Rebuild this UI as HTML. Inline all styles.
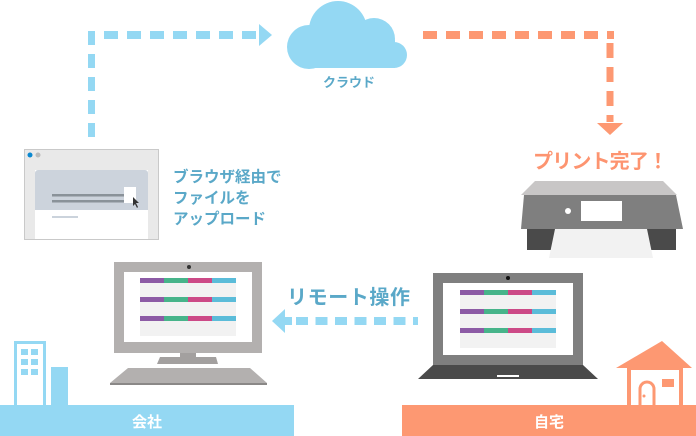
<!DOCTYPE html>
<html><head><meta charset="utf-8"><style>
html,body{margin:0;padding:0;background:#fff;width:696px;height:436px;overflow:hidden}
svg{display:block}
text{font-family:"Liberation Sans","Noto Sans CJK JP",sans-serif;font-weight:bold}
</style></head><body>
<svg width="696" height="436" viewBox="0 0 696 436" xmlns="http://www.w3.org/2000/svg">
<line x1="91.5" y1="137" x2="91.5" y2="31" stroke="#94d8f3" stroke-width="7" stroke-dasharray="14 9"/>
<line x1="104" y1="35" x2="258" y2="35" stroke="#94d8f3" stroke-width="8" stroke-dasharray="14 9"/>
<polygon points="259,24 272,35 259,46" fill="#94d8f3"/>
<g fill="#94d8f3">
<circle cx="309" cy="47" r="22"/>
<circle cx="338" cy="30" r="29"/>
<circle cx="374" cy="39" r="21"/>
<circle cx="394" cy="55" r="13"/>
<rect x="309" y="40" width="86" height="28"/>
</g>
<text x="349" y="87" font-size="13" fill="#5aa8c8" text-anchor="middle">クラウド</text>
<line x1="423" y1="35" x2="614" y2="35" stroke="#fd9872" stroke-width="8" stroke-dasharray="14 9"/>
<line x1="610" y1="43" x2="610" y2="122" stroke="#fd9872" stroke-width="7" stroke-dasharray="15 9"/>
<polygon points="597,123 623,123 610,135" fill="#fd9872"/>
<text x="533" y="168" font-size="20" fill="#fd9470" textLength="135" lengthAdjust="spacing">プリント完了！</text>
<polygon points="535,181 663,181 677,195 521,195" fill="#c8c6c6"/>
<polygon points="524,195 676,195 683,229 521,229" fill="#7f7f7f"/>
<rect x="527" y="229" width="149" height="21" fill="#4a4a4a"/>
<polygon points="555,229 647,229 653,258 549,258" fill="#f2f2f2"/>
<rect x="581" y="201" width="41" height="20" fill="#fff"/>
<circle cx="568" cy="211" r="3" fill="#fff"/>
<rect x="24.5" y="149.5" width="134" height="90" fill="#e9e9e9" stroke="#c9c9c9"/>
<circle cx="30" cy="155" r="2.5" fill="#0a88d0"/>
<circle cx="38" cy="155" r="2.5" fill="#bbb"/>
<rect x="35" y="170" width="113" height="69" fill="#fff"/>
<path d="M35,173 a3,3 0 0 1 3,-3 h107 a3,3 0 0 1 3,3 v37 h-113z" fill="#ccd3dc"/>
<rect x="52" y="194" width="76" height="2.5" fill="#8a9299"/>
<rect x="52" y="200" width="76" height="2.5" fill="#8a9299"/>
<rect x="52" y="216" width="26" height="2" fill="#cbd3dc"/>
<rect x="124" y="187" width="12" height="16" fill="#fff"/>
<polygon points="133,197 133,206 135,204 137,208 138,207 136,203 139,203" fill="#333"/>
<g font-size="15.5" fill="#5aa8c8">
<text x="173" y="182">ブラウザ経由で</text>
<text x="173" y="203">ファイルを</text>
<text x="173" y="224">アップロード</text>
</g>
<rect x="114" y="262" width="148" height="91" fill="#b3b0af"/>
<rect x="124" y="272" width="128" height="70" fill="#fff"/>
<circle cx="189" cy="267" r="2" fill="#333"/>
<rect x="140" y="278" width="96" height="58" fill="#f2f2f2"/>
<g>
<rect x="140" y="278" width="24" height="5" fill="#8c5ba5"/><rect x="164" y="278" width="24" height="5" fill="#47b48a"/><rect x="188" y="278" width="24" height="5" fill="#cc4a87"/><rect x="212" y="278" width="24" height="5" fill="#5bbcd9"/>
<rect x="140" y="297" width="24" height="5" fill="#8c5ba5"/><rect x="164" y="297" width="24" height="5" fill="#47b48a"/><rect x="188" y="297" width="24" height="5" fill="#cc4a87"/><rect x="212" y="297" width="24" height="5" fill="#5bbcd9"/>
<rect x="140" y="316" width="24" height="5" fill="#8c5ba5"/><rect x="164" y="316" width="24" height="5" fill="#47b48a"/><rect x="188" y="316" width="24" height="5" fill="#cc4a87"/><rect x="212" y="316" width="24" height="5" fill="#5bbcd9"/>
</g>
<rect x="180" y="353" width="16" height="4" fill="#a3a09f"/>
<polygon points="160,357 216,357 218,364 157,364" fill="#a3a09f"/>
<polygon points="128,368 250,368 267,383 110,383" fill="#b3b0af"/>
<rect x="110" y="383" width="157" height="2" fill="#8a8887"/>
<text x="287" y="304" font-size="20" fill="#5aa8c8" textLength="123" lengthAdjust="spacing">リモート操作</text>
<line x1="296" y1="321" x2="418" y2="321" stroke="#94d8f3" stroke-width="8" stroke-dasharray="12 7.5"/>
<polygon points="285,309 272,321 285,333" fill="#94d8f3"/>
<rect x="284" y="317" width="8" height="8" fill="#94d8f3"/>
<rect x="433" y="273" width="150" height="92" fill="#7f7f7f"/>
<rect x="443" y="283" width="130" height="72" fill="#fff"/>
<circle cx="508" cy="278" r="2" fill="#111"/>
<rect x="460" y="290" width="96" height="58" fill="#f2f2f2"/>
<g>
<rect x="460" y="290" width="24" height="5" fill="#8c5ba5"/><rect x="484" y="290" width="24" height="5" fill="#47b48a"/><rect x="508" y="290" width="24" height="5" fill="#cc4a87"/><rect x="532" y="290" width="24" height="5" fill="#5bbcd9"/>
<rect x="460" y="309" width="24" height="5" fill="#8c5ba5"/><rect x="484" y="309" width="24" height="5" fill="#47b48a"/><rect x="508" y="309" width="24" height="5" fill="#cc4a87"/><rect x="532" y="309" width="24" height="5" fill="#5bbcd9"/>
<rect x="460" y="328" width="24" height="5" fill="#8c5ba5"/><rect x="484" y="328" width="24" height="5" fill="#47b48a"/><rect x="508" y="328" width="24" height="5" fill="#cc4a87"/><rect x="532" y="328" width="24" height="5" fill="#5bbcd9"/>
</g>
<polygon points="433,365 583,365 598,379 418,379" fill="#4a4a4a"/>
<rect x="497" y="375" width="22" height="2" fill="#fff"/>
<rect x="15.5" y="342.5" width="29" height="64" fill="none" stroke="#94d8f3" stroke-width="3"/>
<g fill="#94d8f3">
<rect x="21" y="349" width="7" height="6"/><rect x="31" y="349" width="7" height="6"/>
<rect x="21" y="359" width="7" height="6"/><rect x="31" y="359" width="7" height="6"/>
<rect x="21" y="369" width="7" height="6"/><rect x="31" y="369" width="7" height="6"/>
<rect x="51" y="367" width="17" height="40"/>
</g>
<polygon points="662,341 692,368 616,368" fill="#fd9872"/>
<rect x="629" y="368" width="52" height="40" fill="none" stroke="#fd9872" stroke-width="4"/>
<path d="M640,407 v-18 a7,7 0 0 1 14,0 v18" fill="none" stroke="#fd9872" stroke-width="3"/>
<circle cx="644" cy="396" r="1.5" fill="#fd9872"/>
<rect x="662" y="379" width="12" height="8" fill="#fd9872"/>
<rect x="0" y="405" width="294" height="31" fill="#94d8f3"/>
<text x="147" y="427" font-size="15" fill="#fff" text-anchor="middle">会社</text>
<rect x="402" y="405" width="294" height="31" fill="#fd9872"/>
<text x="549" y="427" font-size="15" fill="#fff" text-anchor="middle">自宅</text>
</svg>
</body></html>
